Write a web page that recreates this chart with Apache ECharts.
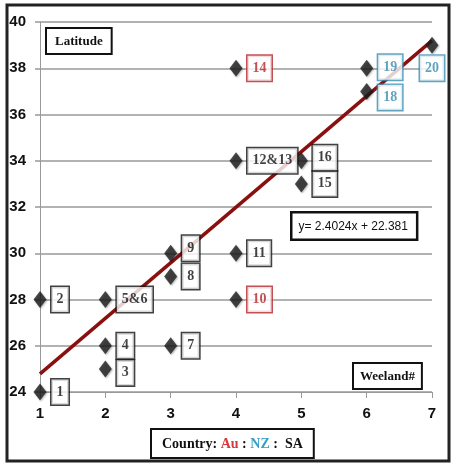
<!DOCTYPE html>
<html>
<head>
<meta charset="utf-8">
<script src="https://cdn.jsdelivr.net/npm/echarts@6/dist/echarts.min.js"></script>
<style>
  html, body { margin: 0; padding: 0; background: #fff; }
  #main { width: 452px; height: 466px; }
</style>
</head>
<body>
<div id="main"></div>
<script>
    var myChart = echarts.init(document.getElementById('main'));

    // weeland data
    var weelandIds = ['1', '2', '3', '4', '5&6', '7', '8', '9', '10', '11', '12&13', '14', '15', '16', '18', '19', '20'];
    var weelandNo = [1, 1, 2, 2, 2, 3, 3, 3, 4, 4, 4, 4, 5, 5, 6, 6, 7];
    var latitude = [24, 28, 25, 26, 28, 26, 29, 30, 28, 30, 34, 38, 33, 34, 37, 38, 39];
    var country = ['SA', 'SA', 'SA', 'SA', 'SA', 'SA', 'SA', 'SA', 'Au', 'SA', 'SA', 'Au', 'SA', 'SA', 'NZ', 'NZ', 'NZ'];
    var xTicks = [1, 2, 3, 4, 5, 6, 7];
    var yTicks = [24, 26, 28, 30, 32, 34, 36, 38, 40];
    var slope = 2.4024, intercept = 22.381;

    var countryColor = { SA: '#111', Au: '#b3262b', NZ: '#3a8db0' };
    // label tweaks
    var labelPlace = {
        '3': [0, 4], '9': [0, -5], '16': [0, -3], '18': [0, 6], '19': [0, -1]
    };

    var points = weelandIds.map(function (id, i) {
        var c = countryColor[country[i]];
        var lab = {
            show: true,
            formatter: id,
            position: 'right',
            distance: 5,
            offset: labelPlace[id] || [0, 0],
            color: c,
            borderColor: c
        };
        if (id === '20') {
            lab.position = 'bottom';
            lab.distance = 2;
            lab.offset = [0, 0];
        }
        return { value: [weelandNo[i], latitude[i]], label: lab };
    });

    var fitLine = [xTicks[0], xTicks[xTicks.length - 1]].map(function (x) {
        return [x, slope * x + intercept];
    });

    var option = {
        backgroundColor: '#fff',
        animation: false,
        grid: { left: 40, right: 20, top: 22, bottom: 74 },
        xAxis: {
            type: 'value',
            min: xTicks[0], max: xTicks[xTicks.length - 1], interval: 1,
            splitLine: { show: false },
            axisLine: { show: true, lineStyle: { color: '#999', width: 1 } },
            axisTick: { show: true, length: 6, lineStyle: { color: '#999' } },
            axisLabel: {
                margin: 14, color: '#111', fontSize: 15, fontWeight: 'bold',
                fontFamily: 'Liberation Sans'
            }
        },
        yAxis: {
            type: 'value',
            min: yTicks[0], max: yTicks[yTicks.length - 1], interval: 2,
            splitLine: { show: true, lineStyle: { color: '#999', width: 1.5 } },
            axisLine: { show: true, lineStyle: { color: '#999', width: 1 } },
            axisTick: { show: true, length: 5, lineStyle: { color: '#999', width: 1.5 } },
            axisLabel: {
                margin: 14, color: '#111', fontSize: 15, fontWeight: 'bold',
                fontFamily: 'Liberation Sans Narrow, Liberation Sans'
            }
        },
        series: [
            {
                type: 'line',
                data: fitLine,
                symbol: 'none',
                z: 2,
                lineStyle: { color: '#8a0f0f', width: 3.5 }
            },
            {
                type: 'scatter',
                data: points,
                symbol: 'diamond',
                symbolSize: [13, 17],
                z: 3,
                itemStyle: { color: '#1c1c1c', shadowColor: 'rgba(0,0,0,0.35)', shadowBlur: 2, shadowOffsetX: 1, shadowOffsetY: 1 },
                label: {
                    backgroundColor: '#fff',
                    borderWidth: 1.5,
                    padding: [6, 5, 5, 5],
                    fontSize: 14,
                    fontWeight: 'bold',
                    fontFamily: 'Liberation Serif'
                }
            }
        ],
        graphic: [
            {
                type: 'rect', silent: true, z: 100,
                shape: { x: 7, y: 5, width: 442, height: 456 },
                style: { fill: 'none', stroke: '#222', lineWidth: 3 }
            },
            {
                type: 'text', left: 45, top: 27, z: 50,
                style: {
                    text: 'Latitude', fill: '#111', font: 'bold 13px "Liberation Serif"',
                    backgroundColor: '#fff', borderColor: '#111', borderWidth: 2, padding: [6, 8, 5, 8]
                }
            },
            {
                type: 'text', left: 352, top: 362, z: 50,
                style: {
                    text: 'Weeland#', fill: '#111', font: 'bold 13px "Liberation Serif"',
                    backgroundColor: '#fff', borderColor: '#111', borderWidth: 2, padding: [6, 6, 5, 6]
                }
            },
            {
                type: 'text', left: 290, top: 211, z: 50,
                style: {
                    text: 'y= 2.4024x + 22.381', fill: '#111', font: '12px "Liberation Sans Narrow", "Liberation Sans"',
                    backgroundColor: '#fff', borderColor: '#111', borderWidth: 2.5, padding: [7, 8, 6, 6]
                }
            },
            {
                type: 'text', left: 150, top: 428, z: 50,
                style: {
                    text: '{k|Country: }{au|Au}{k| : }{nz|NZ}{k| :  SA}',
                    backgroundColor: '#fff', borderColor: '#111', borderWidth: 2, padding: [7, 10, 6, 10],
                    rich: {
                        k: { fill: '#111', font: 'bold 14px "Liberation Serif"' },
                        au: { fill: '#d6383d', font: 'bold 14px "Liberation Serif"' },
                        nz: { fill: '#3a9fc8', font: 'bold 14px "Liberation Serif"' }
                    }
                }
            }
        ]
    };
    myChart.setOption(option);
</script>
</body>
</html>
